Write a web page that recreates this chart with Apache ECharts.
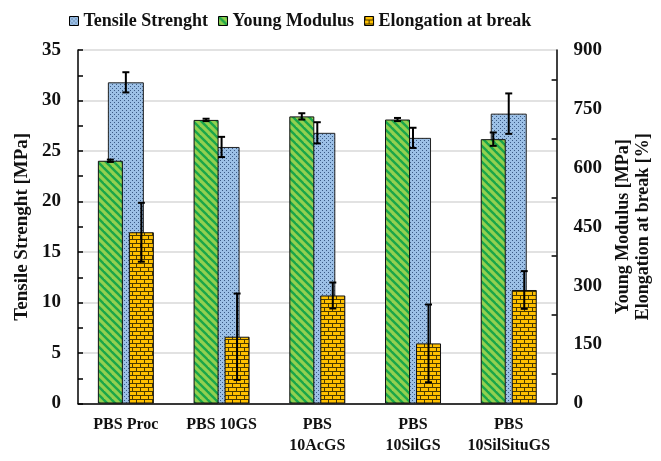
<!DOCTYPE html>
<html>
<head>
<meta charset="utf-8">
<script src="https://cdn.jsdelivr.net/npm/echarts@6/dist/echarts.min.js"></script>
<style>html,body{margin:0;padding:0;background:#fff}#c{width:661px;height:461px}</style>
</head>
<body>
<div id="c"></div>
<script>
const categories = ['PBS Proc', 'PBS 10GS', 'PBS\n10AcGS', 'PBS\n10SilGS', 'PBS\n10SilSituGS'];
const tensile = [31.8, 25.4, 26.8, 26.3, 28.7];
const tensileErr = [1.0, 1.0, 1.05, 1.0, 2.0];
const young = [618, 722, 731, 723, 673];
const youngErr = [3, 3, 8, 4, 17];
const elong = [436, 170, 275, 153, 289];
const elongErr = [75, 110, 33, 99, 48];
const leftTicks = [0, 5, 10, 15, 20, 25, 30, 35];
const rightTicks = [0, 150, 300, 450, 600, 750, 900];

function makeTile(w, h, draw) {
  const c = document.createElement('canvas');
  c.width = w; c.height = h;
  draw(c.getContext('2d'));
  return c;
}
const greenTile = makeTile(8, 8, ctx => {
  ctx.fillStyle = '#92d050'; ctx.fillRect(0, 0, 8, 8);
  ctx.strokeStyle = '#1aa64a'; ctx.lineWidth = 2.4;
  for (let k = -16; k <= 16; k += 8) {
    ctx.beginPath(); ctx.moveTo(k - 2, -2); ctx.lineTo(k + 10, 10); ctx.stroke();
  }
});
const blueTile = makeTile(4, 4, ctx => {
  ctx.fillStyle = '#9cc0e6'; ctx.fillRect(0, 0, 4, 4);
  ctx.fillStyle = '#3b5a85';
  ctx.fillRect(0, 0, 1, 1); ctx.fillRect(2, 2, 1, 1);
});
const brickTile = makeTile(8, 8, ctx => {
  ctx.fillStyle = '#ffc000'; ctx.fillRect(0, 0, 8, 8);
  ctx.fillStyle = '#4a3a00';
  ctx.fillRect(0, 3, 8, 1); ctx.fillRect(0, 7, 8, 1);
  ctx.fillRect(0, 0, 1, 3); ctx.fillRect(4, 4, 1, 3);
});
const greenPat = { image: greenTile, repeat: 'repeat' };
const bluePat = { image: blueTile, repeat: 'repeat' };
const brickPat = { image: brickTile, repeat: 'repeat' };

const font = 'Liberation Serif';
const GW = 25, GAP = 6, BW = 36;

function errSeries(name, vals, errs, xi, yi, offset) {
  return {
    type: 'custom', name: name + ' err', xAxisIndex: xi, yAxisIndex: yi, z: 5,
    silent: true, legendHoverLink: false,
    data: vals.map((v, i) => [i, v, errs[i]]),
    renderItem: (params, api) => {
      const i = api.value(0), v = api.value(1), e = api.value(2);
      const x = api.coord([i, v])[0] + offset;
      const yt = api.coord([i, v + e])[1];
      const yb = api.coord([i, v - e])[1];
      const st = { stroke: '#000', lineWidth: 2 };
      const cw = 3.5;
      return { type: 'group', children: [
        { type: 'line', shape: { x1: x, y1: yt, x2: x, y2: yb }, style: st },
        { type: 'line', shape: { x1: x - cw, y1: yt, x2: x + cw, y2: yt }, style: st },
        { type: 'line', shape: { x1: x - cw, y1: yb, x2: x + cw, y2: yb }, style: st }
      ]};
    }
  };
}

const chart = echarts.init(document.getElementById('c'), null, { renderer: 'canvas' });
chart.setOption({
  animation: false,
  backgroundColor: '#fff',
  textStyle: { fontFamily: font },
  legend: {
    top: 7, left: 64, itemWidth: 9, itemHeight: 9, itemGap: 10,
    icon: 'rect',
    data: ['Tensile Strenght', 'Young Modulus', 'Elongation at break'],
    textStyle: { fontFamily: font, fontWeight: 'bold', fontSize: 18, color: '#111' },
    itemStyle: { borderColor: '#000', borderWidth: 1 }
  },
  grid: { left: 78, right: 103, top: 50, bottom: 57.5, containLabel: false },
  xAxis: [
    { type: 'category', data: categories,
      axisLine: { lineStyle: { color: '#000', width: 1.5 } },
      axisTick: { show: false },
      axisLabel: { fontFamily: font, fontWeight: 'bold', fontSize: 16, color: '#111', margin: 11, lineHeight: 21, interval: 0 } },
    { type: 'category', data: categories, show: false }
  ],
  yAxis: [
    { type: 'value', min: 0, max: 35, interval: 5, position: 'left',
      name: 'Tensile Strenght [MPa]', nameLocation: 'middle', nameGap: 44, nameRotate: 90,
      nameTextStyle: { fontFamily: font, fontWeight: 'bold', fontSize: 19, color: '#111' },
      axisLine: { show: true, lineStyle: { color: '#000', width: 1.5 } },
      axisTick: { show: true, inside: true, length: 5, lineStyle: { color: '#000', width: 1.5 } },
      minorTick: { show: true, splitNumber: 2, length: 5, lineStyle: { color: '#000', width: 1.5 } },
      splitLine: { show: true, lineStyle: { color: '#d9d9d9', width: 1.5 } },
      axisLabel: { fontFamily: font, fontWeight: 'bold', fontSize: 19, color: '#111', margin: 17,
        customValues: leftTicks } },
    { type: 'value', min: 0, max: 900, interval: 150, position: 'right',
      name: 'Young Modulus [MPa]\nElongation at break [%]', nameLocation: 'middle', nameGap: 56, nameRotate: 90,
      nameTextStyle: { fontFamily: font, fontWeight: 'bold', fontSize: 18, color: '#111', lineHeight: 20 },
      axisLine: { show: true, lineStyle: { color: '#000', width: 1.5 } },
      axisTick: { show: false, inside: true, length: 5 },
      minorTick: { show: true, splitNumber: 2, length: 5, lineStyle: { color: '#000', width: 1.5 } },
      splitLine: { show: false },
      axisLabel: { fontFamily: font, fontWeight: 'bold', fontSize: 19, color: '#111', margin: 17,
        customValues: rightTicks } }
  ],
  series: [
    { name: 'Tensile Strenght', type: 'bar', xAxisIndex: 1, yAxisIndex: 0, z: 1, barWidth: BW,
      data: tensile, itemStyle: { color: bluePat, borderColor: '#222', borderWidth: 1 } },
    { name: 'Young Modulus', type: 'bar', xAxisIndex: 0, yAxisIndex: 1, z: 2, barWidth: GW, barGap: (GAP / GW * 100) + '%',
      data: young, itemStyle: { color: greenPat, borderColor: '#111', borderWidth: 1 } },
    { name: 'Elongation at break', type: 'bar', xAxisIndex: 0, yAxisIndex: 1, z: 2, barWidth: GW, barGap: (GAP / GW * 100) + '%',
      data: elong, itemStyle: { color: brickPat, borderColor: '#111', borderWidth: 1 } },
    errSeries('Tensile Strenght', tensile, tensileErr, 1, 0, 0),
    errSeries('Young Modulus', young, youngErr, 0, 1, -(GW + GAP) / 2),
    errSeries('Elongation at break', elong, elongErr, 0, 1, (GW + GAP) / 2)
  ]
});
</script>
</body>
</html>
